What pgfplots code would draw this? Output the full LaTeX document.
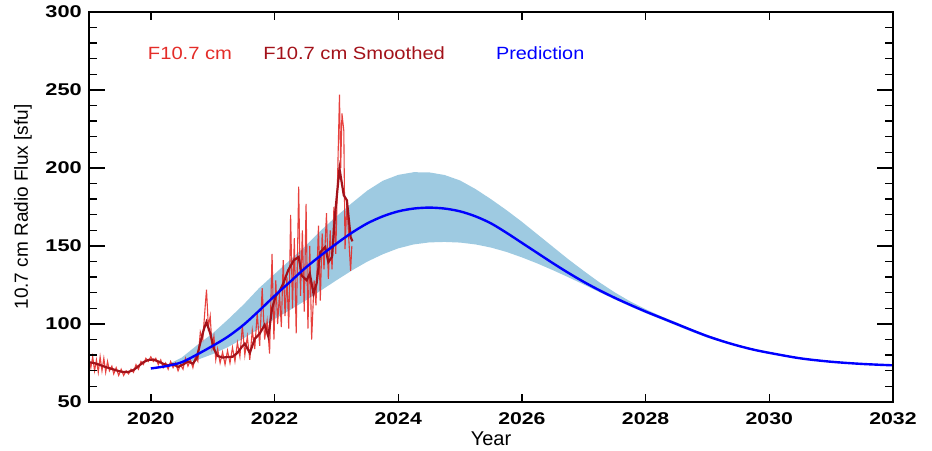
\documentclass[border=0pt]{standalone}
\usepackage{fontspec}
\setmainfont{Liberation Sans}
\usepackage{graphicx}
\usepackage{pgfplots}
\pgfplotsset{compat=1.18}
\definecolor{fluxred}{HTML}{E42C28}
\definecolor{fluxdark}{HTML}{A3121A}
\definecolor{predblue}{HTML}{0000FF}
\definecolor{bandblue}{HTML}{9ECAE1}

\begin{document}
\begin{tikzpicture}
\begin{axis}[
  name=ax,
  width=804pt, height=390pt, scale only axis,
  xmin=2019, xmax=2032, ymin=50, ymax=300,
  xtick={2020,2022,...,2032}, minor x tick num=3,
  ytick={50,100,...,300}, minor y tick num=4,
  tick align=inside,
  axis line style={line width=1.6pt},
  every tick/.style={black, line width=1.4pt},
  xtick style={/pgfplots/major tick length=8pt, /pgfplots/minor tick length=4pt},
  ytick style={/pgfplots/major tick length=16pt, /pgfplots/minor tick length=8pt},
  /pgf/number format/1000 sep={},
  /pgf/number format/assume math mode=true,
  ticklabel style={font=\bfseries\fontsize{17}{19}\selectfont, inner sep=0pt},
  xticklabel={\scalebox{1.25}[1]{\pgfmathprintnumber{\tick}}},
  yticklabel={\scalebox{1.28}[1]{\pgfmathprintnumber{\tick}}},
  xticklabel style={anchor=base, yshift=-22pt},
  yticklabel style={anchor=east, xshift=-7pt},
  xlabel={Year},
  ylabel={10.7 cm Radio Flux [sfu]},
  xlabel style={font=\fontsize{20}{22}\selectfont, inner sep=0pt, at={(axis description cs:0.5,0)}, anchor=base, yshift=-43pt},
  ylabel style={font=\fontsize{19}{21}\selectfont, inner sep=0pt, at={(axis description cs:-0.0821,0.5)}, anchor=center},
  axis on top,
]
  % prediction uncertainty band (upper forward, lower back)
  \addplot[fill=bandblue, draw=none] coordinates {
    (2020.00,71.5) (2020.25,73.6) (2020.50,78.5) (2020.75,86.5) (2021.00,94.0)
    (2021.25,103.0) (2021.50,112.5) (2021.75,123.0) (2022.00,132.0) (2022.25,141.0)
    (2022.50,150.0) (2022.75,160.0) (2023.00,169.0) (2023.25,177.5) (2023.50,185.5)
    (2023.75,191.8) (2024.00,195.6) (2024.25,197.3) (2024.50,197.2) (2024.75,195.5)
    (2025.00,192.0) (2025.25,186.5) (2025.50,180.0) (2025.75,173.0) (2026.00,165.5)
    (2026.25,157.5) (2026.50,149.5) (2026.75,141.5) (2027.00,134.0) (2027.25,126.8)
    (2027.50,120.3) (2027.75,114.5) (2028.00,109.5) (2028.25,105.0) (2028.50,101.0)
    (2028.75,96.8) (2029.00,92.8) (2029.25,89.5) (2029.50,86.6) (2029.75,84.1)
    (2030.00,82.0) (2030.50,78.4) (2031.00,76.2) (2031.50,74.8) (2032.00,73.8)
    (2032.00,73.2) (2031.50,74.1) (2031.00,75.4) (2030.50,77.6) (2030.00,81.0)
    (2029.75,83.1) (2029.50,85.5) (2029.25,88.2) (2029.00,91.2) (2028.75,95.0)
    (2028.50,99.0) (2028.25,103.0) (2028.00,107.0) (2027.75,111.3)
    (2027.50,115.8) (2027.25,120.5) (2027.00,125.3) (2026.75,130.0) (2026.50,134.5)
    (2026.25,138.8) (2026.00,142.7) (2025.75,146.2) (2025.50,149.0) (2025.25,151.0)
    (2025.00,152.2) (2024.75,152.6) (2024.50,152.3) (2024.25,151.0) (2024.00,148.5)
    (2023.75,144.7) (2023.50,140.0) (2023.25,134.3) (2023.00,128.0) (2022.75,121.5)
    (2022.50,115.0) (2022.25,109.0) (2022.00,103.2) (2021.75,97.0) (2021.50,90.8)
    (2021.25,85.3) (2021.00,80.7) (2020.75,77.0) (2020.50,74.3) (2020.25,72.6) (2020.00,71.5)
  } -- cycle;
  % observed F10.7
  \addplot[fluxred, line width=1.1pt, opacity=0.9] coordinates {
    (2019.00,78) (2019.03,72) (2019.06,79) (2019.09,70) (2019.12,77) (2019.15,69)
    (2019.18,79) (2019.21,70) (2019.24,78) (2019.27,69) (2019.30,76) (2019.33,70)
    (2019.37,73) (2019.40,68) (2019.44,72) (2019.48,67) (2019.52,71) (2019.56,67)
    (2019.60,70) (2019.64,68) (2019.68,71) (2019.72,69) (2019.76,74) (2019.80,71)
    (2019.84,76) (2019.88,74) (2019.92,78) (2019.96,76) (2020.00,79) (2020.04,76)
    (2020.08,78) (2020.12,74) (2020.16,77) (2020.20,72) (2020.24,75) (2020.28,71)
    (2020.32,76) (2020.36,72) (2020.40,75) (2020.44,70) (2020.48,74) (2020.52,71)
    (2020.56,78) (2020.60,73) (2020.64,77) (2020.68,72) (2020.72,79) (2020.76,76)
    (2020.80,95) (2020.84,90) (2020.88,112) (2020.90,122) (2020.93,98) (2020.96,105)
    (2020.99,85) (2021.02,92) (2021.05,77) (2021.08,84) (2021.12,75) (2021.16,82)
    (2021.20,74) (2021.24,83) (2021.28,75) (2021.32,85) (2021.36,76) (2021.40,88)
    (2021.44,79) (2021.48,99) (2021.52,80) (2021.56,92) (2021.60,77) (2021.64,96)
    (2021.68,84) (2021.72,107) (2021.76,86) (2021.80,123) (2021.84,90) (2021.88,102)
    (2021.92,81) (2021.96,145) (2021.99,90) (2022.02,128) (2022.05,100) (2022.08,120)
    (2022.11,98) (2022.14,141) (2022.17,105) (2022.20,130) (2022.23,97) (2022.26,170)
    (2022.29,110) (2022.32,155) (2022.35,94) (2022.39,188) (2022.42,118) (2022.45,160)
    (2022.48,108) (2022.51,177) (2022.54,97) (2022.57,150) (2022.60,90) (2022.64,128)
    (2022.67,112) (2022.71,163) (2022.74,115) (2022.77,158) (2022.80,135) (2022.84,171)
    (2022.87,129) (2022.90,160) (2022.93,135) (2022.96,175) (2022.99,145) (2023.02,195)
    (2023.05,247) (2023.07,200) (2023.09,235) (2023.12,224) (2023.14,148) (2023.17,178)
    (2023.20,155) (2023.23,134) (2023.25,150)
  };
  % smoothed F10.7
  \addplot[fluxdark, line width=2.2pt] coordinates {
    (2019.00,75.5) (2019.08,75.0) (2019.16,74.0) (2019.24,72.8) (2019.32,71.8)
    (2019.40,70.8) (2019.48,69.8) (2019.56,69.2) (2019.64,69.3) (2019.72,70.5)
    (2019.80,73.0) (2019.88,75.5) (2019.96,77.0) (2020.04,77.2) (2020.12,76.0)
    (2020.20,74.5) (2020.28,73.5) (2020.36,74.3) (2020.44,72.5) (2020.52,74.0)
    (2020.60,76.0) (2020.68,74.6) (2020.74,78.0) (2020.80,88.0) (2020.86,97.0)
    (2020.90,101.3) (2020.96,94.0) (2021.02,84.0) (2021.08,79.5) (2021.16,78.5)
    (2021.24,78.8) (2021.32,79.0) (2021.40,81.5) (2021.47,85.3) (2021.52,87.4)
    (2021.60,81.5) (2021.68,90.5) (2021.76,93.8) (2021.84,99.5) (2021.90,92.0)
    (2021.96,110.0) (2022.02,118.0) (2022.08,121.0) (2022.14,125.9) (2022.22,134.4)
    (2022.31,140.8) (2022.39,143.0) (2022.44,131.0) (2022.52,128.0) (2022.57,132.3)
    (2022.63,119.5) (2022.68,126.0) (2022.74,146.0) (2022.82,149.4) (2022.87,139.7)
    (2022.93,143.0) (2022.98,170.8) (2023.05,199.6) (2023.12,182.5) (2023.17,179.3)
    (2023.23,155.8) (2023.26,153.0)
  };
  % predicted cycle
  \addplot[predblue, line width=2.4pt, smooth] coordinates {
    (2020.00,71.5) (2020.25,73.0) (2020.50,75.5) (2020.75,80.5) (2021.00,86.0)
    (2021.25,92.0) (2021.50,99.5) (2021.75,108.5) (2022.00,118.0) (2022.25,127.0)
    (2022.50,136.0) (2022.75,144.0) (2023.00,151.5) (2023.25,158.5) (2023.50,164.5)
    (2023.75,169.0) (2024.00,172.2) (2024.25,174.0) (2024.50,174.6) (2024.75,174.0)
    (2025.00,172.2) (2025.25,169.0) (2025.50,164.5) (2025.75,158.5) (2026.00,152.0)
    (2026.25,145.5) (2026.50,139.0) (2026.75,132.8) (2027.00,127.0) (2027.25,121.7)
    (2027.50,116.8) (2027.75,112.3) (2028.00,108.0) (2028.25,104.0) (2028.50,100.0)
    (2028.75,96.0) (2029.00,92.2) (2029.25,88.9) (2029.50,86.0) (2029.75,83.5)
    (2030.00,81.5) (2030.50,78.0) (2031.00,75.8) (2031.50,74.4) (2032.00,73.5)
  };
  \node[fluxred, anchor=base west, inner sep=0pt, font=\fontsize{17.7}{20}\selectfont] at (axis cs:2019.95,269.5) {\scalebox{1.14}[1]{F10.7 cm}};
  \node[fluxdark, anchor=base west, inner sep=0pt, font=\fontsize{17.7}{20}\selectfont] at (axis cs:2021.815,269.5) {\scalebox{1.14}[1]{F10.7 cm Smoothed}};
  \node[predblue, anchor=base west, inner sep=0pt, font=\fontsize{17.7}{20}\selectfont] at (axis cs:2025.58,269.5) {\scalebox{1.12}[1]{Prediction}};
\end{axis}
\path (ax.south west) ++(-89pt,-48pt) rectangle ++(932pt,450pt);
\end{tikzpicture}
\end{document}
